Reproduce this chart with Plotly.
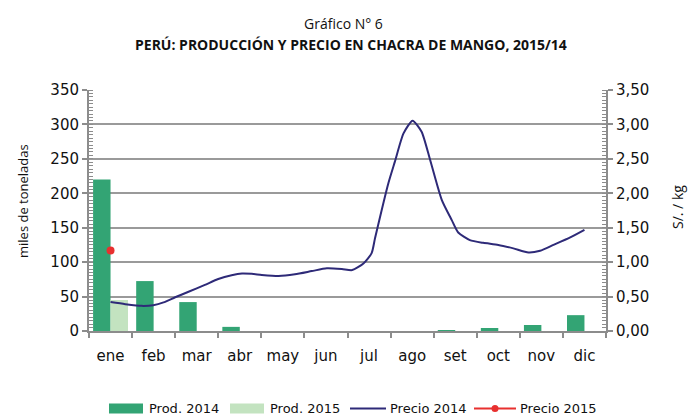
import plotly.graph_objects as go

months = ["ene", "feb", "mar", "abr", "may", "jun", "jul", "ago", "set", "oct", "nov", "dic"]
month_pos = list(range(12))

prod_2014 = [220, 72.5, 42, 6, 0, 0, 0, 0, 0.5, 4.4, 8.7, 23]
prod_2015 = [45, None, None, None, None, None, None, None, None, None, None, None]

# Precio 2014: at (fractional) month positions
precio_2014_x = [0.0, 0.34, 0.72, 0.99, 1.23, 1.50, 1.81, 2.19, 2.50, 2.81, 3.05, 3.28, 3.51,
                 3.90, 4.28, 4.67, 5.02, 5.37, 5.61, 5.87, 6.06, 6.14, 6.45, 6.60, 6.80,
                 7.01, 7.22, 7.42, 7.69, 7.92, 8.07, 8.34, 8.65, 9.00, 9.35, 9.70, 9.97,
                 10.28, 10.67, 11.0]
precio_2014_y = [0.42, 0.39, 0.365, 0.375, 0.415, 0.49, 0.57, 0.67, 0.755, 0.81, 0.835, 0.83, 0.815,
                 0.80, 0.825, 0.87, 0.91, 0.90, 0.885, 0.98, 1.13, 1.35, 2.15, 2.46, 2.87,
                 3.055, 2.895, 2.48, 1.90, 1.61, 1.43, 1.32, 1.28, 1.25, 1.20, 1.14, 1.165,
                 1.25, 1.36, 1.47]

precio_2015_x = [0]
precio_2015_y = [1.17]

series_names = ["Prod. 2014", "Prod. 2015", "Precio 2014", "Precio 2015"]

boundaries = [i - 0.5 for i in range(13)]

DARK_GREEN = "#33A474"
LIGHT_GREEN = "#C3E3C0"
NAVY = "#2E2A78"
RED = "#E8302F"
GRID = "#9A9A9A"
AXIS = "#8C8C8C"
TEXT = "#111111"

# plot-area geometry in pixels (for placing text in paper coordinates)
L, R, T, B = 89, 606, 90, 331


def px_x(px):
    return (px - L) / (R - L)


def px_y(py):
    return (B - py) / (B - T)


fig = go.Figure()
fig.add_trace(go.Bar(x=month_pos, y=prod_2014, name=series_names[0], marker_color=DARK_GREEN,
                     marker_line_width=0, showlegend=False))
fig.add_trace(go.Bar(x=month_pos, y=prod_2015, name=series_names[1], marker_color=LIGHT_GREEN,
                     marker_line_width=0, showlegend=False))
fig.add_trace(go.Scatter(x=precio_2014_x, y=precio_2014_y, name=series_names[2], mode="lines",
                         line=dict(color=NAVY, width=2, shape="spline", smoothing=0.6),
                         yaxis="y2", showlegend=False))
fig.add_trace(go.Scatter(x=precio_2015_x, y=precio_2015_y, name=series_names[3], mode="lines+markers",
                         line=dict(color=RED, width=2), marker=dict(color=RED, size=8),
                         yaxis="y2", showlegend=False))

# legend drawn below the plot (wide swatches like the original)
LEG_Y = 408.5
shapes = [
    dict(type="rect", xref="paper", yref="paper", x0=px_x(109), x1=px_x(143),
         y0=px_y(413.5), y1=px_y(403.5), fillcolor=DARK_GREEN, line_width=0),
    dict(type="rect", xref="paper", yref="paper", x0=px_x(230), x1=px_x(264),
         y0=px_y(413.5), y1=px_y(403.5), fillcolor=LIGHT_GREEN, line_width=0),
    dict(type="line", xref="paper", yref="paper", x0=px_x(350), x1=px_x(386),
         y0=px_y(LEG_Y), y1=px_y(LEG_Y), line=dict(color=NAVY, width=2)),
    dict(type="line", xref="paper", yref="paper", x0=px_x(474), x1=px_x(516),
         y0=px_y(LEG_Y), y1=px_y(LEG_Y), line=dict(color=RED, width=2)),
    dict(type="circle", xref="paper", yref="paper", x0=px_x(491.5), x1=px_x(498.5),
         y0=px_y(LEG_Y + 3.5), y1=px_y(LEG_Y - 3.5), fillcolor=RED, line_width=0),
]
legend_text_x = [147, 268, 388, 518]
legend_labels = [
    dict(text=name, xref="paper", yref="paper", x=px_x(tx), y=px_y(LEG_Y), xanchor="left",
         yanchor="middle", showarrow=False,
         font=dict(family="DejaVu Sans", size=13, color=TEXT))
    for name, tx in zip(series_names, legend_text_x)
]

fig.update_layout(
    width=688, height=418,
    margin=dict(l=L, r=688 - R, t=T, b=418 - B, autoexpand=False),
    paper_bgcolor="white", plot_bgcolor="white",
    separators=",.",
    barmode="group", bargap=0.19, bargroupgap=0,
    font=dict(family="DejaVu Sans", size=15, color=TEXT),
    showlegend=False,
    xaxis=dict(
        range=[-0.5, 11.5], tickmode="array", tickvals=month_pos, ticktext=months,
        ticks="", showgrid=False, zeroline=False, automargin=False,
        showline=True, linecolor=AXIS, linewidth=2, ticklabelstandoff=10,
        tickfont=dict(family="DejaVu Sans", size=15),
        minor=dict(tickmode="array", tickvals=boundaries, ticks="outside", ticklen=5,
                   tickcolor=AXIS, tickwidth=2, showgrid=False),
    ),
    yaxis=dict(
        range=[0, 350], dtick=50, tick0=0, automargin=False,
        showgrid=True, gridcolor=GRID, gridwidth=1.5, zeroline=False,
        showline=True, linecolor=AXIS, linewidth=2,
        ticks="outside", ticklen=5, tickcolor=AXIS, tickwidth=2,
        tickfont=dict(family="DejaVu Sans", size=15),
        minor=dict(dtick=5, ticks="inside", ticklen=4, tickcolor=AXIS, tickwidth=1, showgrid=False),
    ),
    yaxis2=dict(
        range=[0, 3.5], dtick=0.5, tick0=0, tickformat=".2f", automargin=False,
        overlaying="y", side="right", anchor="x",
        showgrid=False, zeroline=False,
        showline=True, linecolor=AXIS, linewidth=2,
        ticks="outside", ticklen=5, tickcolor=AXIS, tickwidth=2,
        tickfont=dict(family="DejaVu Sans", size=15),
        minor=dict(dtick=0.05, ticks="inside", ticklen=4, tickcolor=AXIS, tickwidth=1, showgrid=False),
    ),
    shapes=shapes,
    annotations=[
        dict(text="Gráfico N° 6", xref="paper", yref="paper", x=px_x(343), y=px_y(23),
             yanchor="middle", xanchor="center", showarrow=False,
             font=dict(family="Open Sans", size=14, color=TEXT)),
        dict(text="<b>PERÚ: PRODUCCIÓN Y PRECIO EN CHACRA DE MANGO, 2015/14</b>", xref="paper",
             yref="paper", x=px_x(351), y=px_y(44), yanchor="middle", xanchor="center",
             showarrow=False, font=dict(family="Open Sans", size=14, color=TEXT)),
        dict(text="miles de toneladas", xref="paper", yref="paper", x=px_x(23), y=px_y(201),
             xanchor="center", yanchor="middle", textangle=-90, showarrow=False,
             font=dict(family="Open Sans", size=13, color=TEXT)),
        dict(text="S/. / kg", xref="paper", yref="paper", x=px_x(677), y=px_y(207),
             xanchor="center", yanchor="middle", textangle=-90, showarrow=False,
             font=dict(family="Open Sans", size=14, color=TEXT)),
    ] + legend_labels,
)

fig.write_html("out.html", config={"displayModeBar": False},
               post_script="document.body.style.margin='0';document.body.style.overflow='hidden';")
